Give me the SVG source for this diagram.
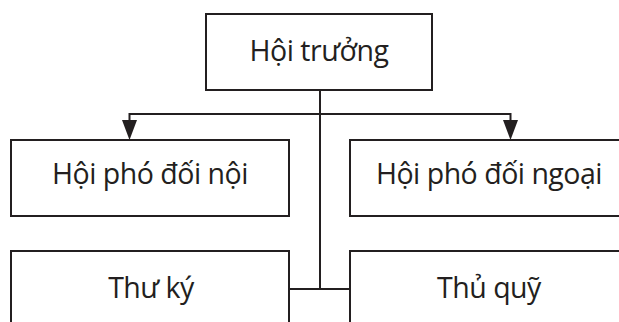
<svg xmlns="http://www.w3.org/2000/svg" width="619" height="322" viewBox="0 0 619 322">
<style>
.box{fill:#fff;stroke:#231f20;stroke-width:2}
.lbl{font-family:"Open Sans","Noto Sans","DejaVu Sans",sans-serif;font-size:28.5px;letter-spacing:-0.5px;fill:#231f20;text-anchor:middle}
.con{fill:none;stroke:#231f20;stroke-width:2}
</style>
<rect width="619" height="322" fill="#fff"/>
<g id="connectors">
<line class="con" x1="320" y1="90" x2="320" y2="289"/>
<polyline class="con" points="129.5,120 129.5,114 510.5,114 510.5,120"/>
<path d="M122,120 L137,120 L129.5,140 Z" fill="#231f20"/>
<path d="M503,120 L518,120 L510.5,140 Z" fill="#231f20"/>
<line class="con" x1="289" y1="289" x2="350" y2="289"/>
</g>
<g id="hoi-truong">
<rect class="box" x="206" y="14" width="226" height="76"/>
<text class="lbl" x="319" y="61">Hội trưởng</text>
</g>
<g id="hoi-pho-doi-noi">
<rect class="box" x="11" y="140" width="278" height="76"/>
<text class="lbl" x="150" y="184">Hội phó đối nội</text>
</g>
<g id="hoi-pho-doi-ngoai">
<rect class="box" x="350" y="140" width="278" height="76"/>
<text class="lbl" x="489" y="184">Hội phó đối ngoại</text>
</g>
<g id="thu-ky">
<rect class="box" x="11" y="251" width="278" height="80"/>
<text class="lbl" x="151" y="298">Thư ký</text>
</g>
<g id="thu-quy">
<rect class="box" x="350" y="251" width="278" height="80"/>
<text class="lbl" x="489" y="298">Thủ quỹ</text>
</g>
</svg>
